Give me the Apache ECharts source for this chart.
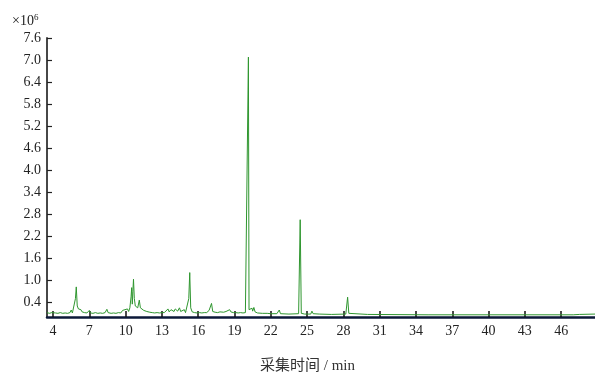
<!DOCTYPE html>
<html>
<head>
<meta charset="utf-8">
<script src="https://cdn.jsdelivr.net/npm/echarts@6/dist/echarts.min.js"></script>
<style>
  html, body { margin: 0; padding: 0; background: #fff; }
  #chart { width: 595px; height: 374px; }
</style>
</head>
<body>
<div id="chart"></div>
<script>
// Retention time (min)
var times = [
  3.5, 3.7, 3.9, 4.0, 4.2, 4.4, 4.6, 4.8, 5.0, 5.2, 5.4, 5.5, 5.6, 5.75, 5.85, 5.92, 6.0, 6.1, 6.2, 6.3,
  6.4, 6.5, 6.6, 6.8, 7.0, 7.1, 7.3, 7.5, 7.7, 7.9, 8.1, 8.3, 8.45, 8.55, 8.8, 9.0, 9.2, 9.4, 9.6, 9.75,
  9.85, 9.95, 10.05, 10.15, 10.25, 10.35, 10.45, 10.5, 10.55, 10.6, 10.65, 10.72, 10.8, 10.9, 11.0, 11.13, 11.22, 11.35, 11.5, 11.6,
  11.75, 11.9, 12.0, 12.2, 12.4, 12.6, 12.8, 13.0, 13.1, 13.2, 13.35, 13.5, 13.6, 13.75, 13.9, 14.0, 14.1, 14.2, 14.3, 14.45,
  14.55, 14.7, 14.85, 14.95, 15.1, 15.22, 15.3, 15.38, 15.5, 15.7, 15.9, 16.1, 16.3, 16.5, 16.7, 16.9, 17.0, 17.1, 17.2, 17.4,
  17.6, 17.8, 17.9, 18.1, 18.3, 18.45, 18.6, 18.7, 18.8, 18.9, 19.1, 19.3, 19.5, 19.7, 19.9, 20.05, 20.1, 20.15, 20.2, 20.3,
  20.45, 20.5, 20.6, 20.7, 20.9, 21.3, 21.7, 22.0, 22.5, 22.7, 22.8, 23.5, 24.3, 24.43, 24.52, 24.8, 25.3, 25.4, 25.5, 26.0,
  27.0, 28.2, 28.35, 28.45, 28.6, 30.0, 35.0, 40.0, 45.0, 47.0, 47.5, 48.8
];

// Signal intensity (x10^6)
var intensity = [
  0.12, 0.10, 0.12, 0.09, 0.11, 0.10, 0.12, 0.10, 0.11, 0.10, 0.12, 0.19, 0.11, 0.12, 0.50, 0.82, 0.30, 0.22, 0.18, 0.20,
  0.14, 0.17, 0.12, 0.11, 0.18, 0.11, 0.10, 0.12, 0.10, 0.11, 0.10, 0.12, 0.21, 0.12, 0.10, 0.11, 0.10, 0.12, 0.11, 0.18,
  0.14, 0.20, 0.16, 0.22, 0.15, 0.25, 0.55, 0.80, 0.35, 0.70, 1.03, 0.50, 0.30, 0.28, 0.25, 0.46, 0.25, 0.22, 0.18, 0.20,
  0.15, 0.16, 0.13, 0.12, 0.11, 0.12, 0.11, 0.12, 0.16, 0.12, 0.15, 0.22, 0.14, 0.20, 0.25, 0.15, 0.22, 0.27, 0.16, 0.25,
  0.15, 0.14, 0.20, 0.12, 0.13, 0.50, 1.21, 0.25, 0.14, 0.12, 0.11, 0.12, 0.11, 0.12, 0.12, 0.18, 0.14, 0.37, 0.15, 0.13,
  0.12, 0.14, 0.12, 0.13, 0.15, 0.12, 0.20, 0.14, 0.18, 0.12, 0.12, 0.11, 0.12, 0.11, 0.12, 0.14, 0.14, 7.08, 0.20, 0.15,
  0.24, 0.16, 0.26, 0.14, 0.11, 0.10, 0.10, 0.09, 0.09, 0.19, 0.09, 0.08, 0.09, 2.65, 0.10, 0.08, 0.08, 0.16, 0.09, 0.08,
  0.07, 0.08, 0.54, 0.10, 0.07, 0.07, 0.06, 0.06, 0.06, 0.06, 0.07, 0.08
];

// Axis tick labels
var xTicks = [4, 7, 10, 13, 16, 19, 22, 25, 28, 31, 34, 37, 40, 43, 46];
var yTicks = [0.4, 1.0, 1.6, 2.2, 2.8, 3.4, 4.0, 4.6, 5.2, 5.8, 6.4, 7.0, 7.6];

var seriesData = times.map(function (t, i) { return [t, intensity[i]]; });

var serif = "'Liberation Serif', 'Noto Sans CJK SC', serif";

var chart = echarts.init(document.getElementById('chart'), null, { renderer: 'canvas' });

chart.setOption({
  animation: false,
  backgroundColor: '#ffffff',
  grid: { left: 47, right: 0, top: 38, bottom: 57, containLabel: false },
  xAxis: {
    type: 'value',
    min: 3.5,
    max: 48.8,
    axisLine: { show: true, lineStyle: { color: '#0b1838', width: 2.5 } },
    axisTick: {
      show: true, inside: true, length: 6,
      customValues: xTicks,
      lineStyle: { color: '#111', width: 1.5 }
    },
    axisLabel: {
      customValues: xTicks,
      color: '#222', fontFamily: serif, fontSize: 14, margin: 7,
      formatter: function (v) { return String(v); }
    },
    splitLine: { show: false }
  },
  yAxis: {
    type: 'value',
    min: 0,
    max: 7.6,
    axisLine: { show: true, lineStyle: { color: '#333', width: 1.8 } },
    axisTick: {
      show: true, inside: true, length: 5,
      customValues: yTicks,
      lineStyle: { color: '#222', width: 1.2 }
    },
    axisLabel: {
      customValues: yTicks,
      color: '#222', fontFamily: serif, fontSize: 14, margin: 6,
      formatter: function (v) { return v.toFixed(1); }
    },
    splitLine: { show: false }
  },
  graphic: [
    {
      type: 'text', left: 12, top: 13,
      style: {
        text: '{b|×10}{s|6}',
        rich: {
          b: { fontFamily: serif, fontSize: 14, fill: '#222', verticalAlign: 'bottom' },
          s: { fontFamily: serif, fontSize: 9, fill: '#222', verticalAlign: 'top', padding: [0, 0, 6, 0] }
        }
      }
    },
    {
      type: 'text', left: 260, top: 359,
      style: { text: '采集时间 / min', fontFamily: serif, fontSize: 15, fill: '#333' }
    }
  ],
  series: [{
    type: 'line',
    data: seriesData,
    showSymbol: false,
    smooth: false,
    lineStyle: { color: '#2f962f', width: 1 },
    z: 1
  }]
});
</script>
</body>
</html>
